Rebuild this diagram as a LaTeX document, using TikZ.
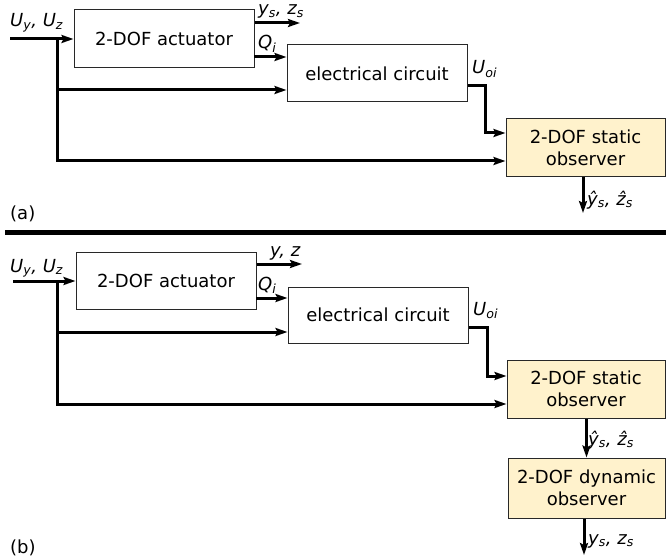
\documentclass[tikz,border=0pt]{standalone}
\usepackage{fontspec}
\setmainfont{DejaVu Sans}
\usetikzlibrary{arrows.meta}
\definecolor{obsfill}{RGB}{255,242,204}
\definecolor{boxline}{RGB}{40,40,40}
\newcommand{\sbs}[1]{\textsubscript{#1}}
\begin{document}
\begin{tikzpicture}[x=1pt,y=-1pt,
  every node/.style={font=\fontsize{18}{22}\selectfont, inner sep=0pt},
  blk/.style={draw=boxline, line width=1pt, align=center},
  obs/.style={blk, fill=obsfill},
  conn/.style={line width=3pt},
  arr/.style={conn, -{Stealth[length=12pt,width=8pt,inset=2pt]}},
  lbl/.style={anchor=base west, font=\fontsize{18}{22}\selectfont\itshape}]
\useasboundingbox (0,0) rectangle (666,556);

% ---------- panel (a) ----------
\node[blk, minimum width=180pt, minimum height=58pt] (acta) at (164,39) {2-DOF actuator};
\node[blk, minimum width=180pt, minimum height=57pt] (eca) at (377,73.5) {electrical circuit};
\node[obs, minimum width=159pt, minimum height=58pt] (soa) at (585.5,148) {2-DOF static\\observer};

\coordinate (ina) at (10,39);
\coordinate (ja) at (57,39);
\coordinate (b1a) at (57,90);
\coordinate (b2a) at (57,161);
\coordinate (ysa) at (300,23);
\coordinate (qa) at (254,57);
\coordinate (ua) at (485,86);
\coordinate (outa) at (583,213);

\draw[arr] (ina) -- (acta.west);
\draw[arr] (ja) -- (b2a) -- (soa.west |- b2a);
\draw[arr] (b1a) -- (eca.west |- b1a);
\draw[arr] (acta.east |- ysa) -- (ysa);
\draw[arr] (qa) -- (eca.west |- qa);
\draw[arr] (eca.east |- ua) -- (ua) -- (ua |- 0,133) -- (soa.west |- 0,133);
\draw[arr] (soa.south -| outa) -- (outa);

\node[lbl] (lua) at (10,27) {U\sbs{y}, U\sbs{z}};
\node[lbl] (lysa) at (258,15) {y\sbs{s}, z\sbs{s}};
\node[lbl] (lqa) at (258,49) {Q\sbs{i}};
\node[lbl] (luoa) at (472,74) {U\sbs{oi}};
\node[lbl] (lhata) at (587,205) {ŷ\sbs{s}, ẑ\sbs{s}};
\node[anchor=base west] (taga) at (10,219) {(a)};

% separator
\coordinate (sepl) at (5,232);
\coordinate (sepr) at (666,232);
\draw[line width=5pt] (sepl) -- (sepr);

% ---------- panel (b) ----------
\node[blk, minimum width=180pt, minimum height=57pt] (actb) at (166,281) {2-DOF actuator};
\node[blk, minimum width=180pt, minimum height=56pt] (ecb) at (378,315) {electrical circuit};
\node[obs, minimum width=158pt, minimum height=58pt] (sob) at (586,389) {2-DOF static\\observer};
\node[obs, minimum width=157pt, minimum height=60pt] (dob) at (586.5,488) {2-DOF dynamic\\observer};

\coordinate (inb) at (13,281);
\coordinate (jb) at (57,281);
\coordinate (b1b) at (57,332);
\coordinate (b2b) at (57,404);
\coordinate (yzb) at (302,264);
\coordinate (qb) at (256,298);
\coordinate (ub) at (487,327);
\coordinate (outb) at (584,555);

\draw[arr] (inb) -- (actb.west);
\draw[arr] (jb) -- (b2b) -- (sob.west |- b2b);
\draw[arr] (b1b) -- (ecb.west |- b1b);
\draw[arr] (actb.east |- yzb) -- (yzb);
\draw[arr] (qb) -- (ecb.west |- qb);
\draw[arr] (ecb.east |- ub) -- (ub) -- (ub |- 0,376) -- (sob.west |- 0,376);
\draw[arr] (sob.south -| dob.north) -- (dob.north);
\draw[arr] (dob.south -| outb) -- (outb);

\node[lbl] (lub) at (10,272) {U\sbs{y}, U\sbs{z}};
\node[lbl] (lyzb) at (270,256) {y, z};
\node[lbl] (lqb) at (258,290) {Q\sbs{i}};
\node[lbl] (luob) at (473,315) {U\sbs{oi}};
\node[lbl] (lhatb) at (588,445) {ŷ\sbs{s}, ẑ\sbs{s}};
\node[lbl] (lysb) at (588,544) {y\sbs{s}, z\sbs{s}};
\node[anchor=base west] (tagb) at (10,553) {(b)};
\end{tikzpicture}
\end{document}
